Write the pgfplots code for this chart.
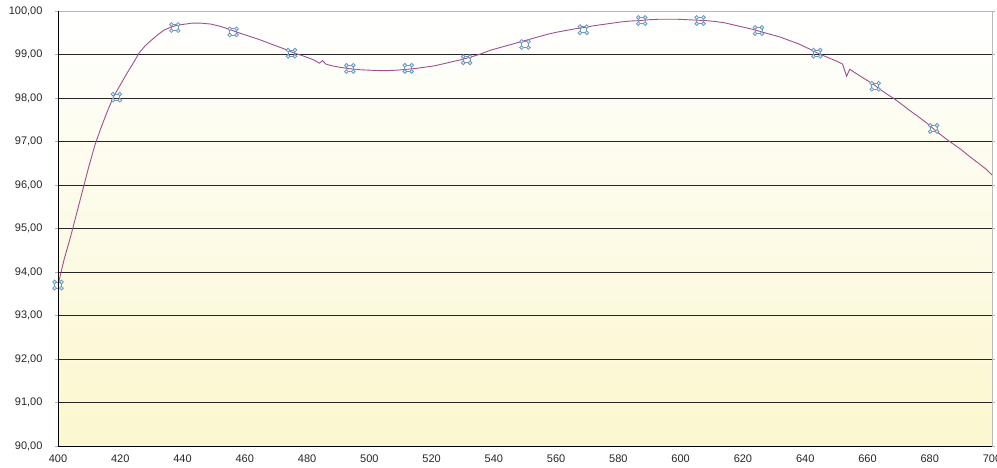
\documentclass[border=0pt]{standalone}
\usepackage{fontspec}
\setmainfont{Liberation Sans}
\usepackage{pgfplots}
\pgfplotsset{compat=1.18}
\definecolor{curve}{HTML}{A0508E}
\definecolor{mkblue}{HTML}{6A98C0}
\definecolor{mkfill}{HTML}{E4EEF6}
\definecolor{bgyellow}{HTML}{FBF7CE}

\pgfdeclareplotmark{cmdmark}{%
  \pgfpathrectanglecorners{\pgfpoint{-3.4pt}{-3.1pt}}{\pgfpoint{3.4pt}{3.1pt}}%
  \pgfusepathqstroke
  \pgfpathcircle{\pgfpoint{-3.4pt}{3.1pt}}{1.9pt}%
  \pgfpathcircle{\pgfpoint{3.4pt}{3.1pt}}{1.9pt}%
  \pgfpathcircle{\pgfpoint{-3.4pt}{-3.1pt}}{1.9pt}%
  \pgfpathcircle{\pgfpoint{3.4pt}{-3.1pt}}{1.9pt}%
  \pgfusepathqfillstroke
}

\begin{document}
\begin{tikzpicture}
\begin{axis}[
    scale only axis,
    width=934pt, height=435pt,
    xmin=400, xmax=700, ymin=90, ymax=100,
    xtick={400,420,...,700},
    ytick={90,91,...,100},
    axis line style={draw=gray!55, line width=0.8pt},
    ymajorgrids,
    major grid style={black!85, line width=0.9pt},
    x tick style={draw=none},
    y tick style={draw=gray!60},
    tick align=outside,
    major tick length=3pt,
    tick label style={font=\fontsize{11}{13}\selectfont, text=black!85},
    yticklabel style={xshift=-9pt},
    xticklabel style={yshift=-2pt},
    /pgf/number format/.cd, fixed, fixed zerofill, precision=2, use comma, 1000 sep={},
    assume math mode=true,
    /pgfplots/.cd,
    xticklabel={\pgfmathprintnumber[fixed,precision=0,1000 sep={}]{\tick}},
    axis background/.style={top color=white, bottom color=bgyellow, middle color=white!50!bgyellow},
    after end axis/.code={
      \draw[black, line width=0.9pt] (rel axis cs:0,1) -- (rel axis cs:0,0) -- (rel axis cs:1,0);
    },
]
\addplot[curve, line width=0.9pt, mark=none] coordinates {
(400,93.70) (402,94.30) (404,94.80) (406,95.35) (408,95.90) (410,96.45)
(412,96.95) (414,97.35) (416,97.72) (418,98.05) (420,98.30) (422,98.55)
(424,98.78) (426,99.03) (428,99.20) (430,99.33) (432,99.45) (434,99.56)
(436,99.62) (438,99.67) (440,99.69) (443,99.72) (446,99.72) (449,99.70)
(452,99.65) (455,99.58) (458,99.50) (461,99.43) (464,99.36) (467,99.28)
(470,99.20) (473,99.12) (476,99.03) (479,98.96) (482,98.88) (484,98.80)
(485,98.86) (486,98.78) (488,98.74) (491,98.70) (494,98.67) (497,98.65)
(500,98.64) (503,98.63) (506,98.63) (509,98.64) (512,98.66) (515,98.68)
(518,98.71) (521,98.74) (524,98.79) (527,98.84) (530,98.89) (533,98.95)
(536,99.02) (539,99.10) (542,99.16) (545,99.22) (548,99.28) (551,99.34)
(554,99.40) (557,99.46) (560,99.51) (563,99.55) (566,99.59) (569,99.62)
(572,99.66) (575,99.69) (578,99.72) (581,99.75) (584,99.77) (587,99.78)
(590,99.80) (593,99.81) (596,99.81) (599,99.81) (602,99.80) (605,99.79)
(608,99.78) (611,99.76) (614,99.73) (617,99.68) (620,99.63) (623,99.58)
(626,99.52) (629,99.46) (632,99.40) (635,99.32) (638,99.24) (641,99.14)
(644,99.03) (647,98.94) (650,98.85) (652,98.78) (653.3,98.50) (654.3,98.66)
(656,98.58) (658,98.49) (660,98.40) (662,98.31) (664,98.20) (666,98.10)
(668,98.01) (670,97.91) (672,97.80) (674,97.69) (676,97.59) (678,97.48)
(680,97.37) (682,97.24) (684,97.13) (686,97.02) (688,96.92) (690,96.82)
(692,96.70) (694,96.59) (696,96.48) (698,96.37) (700,96.23)
};
\addplot[only marks, mark=cmdmark, mark options={draw=mkblue, fill=mkfill, line width=0.8pt}] coordinates {
(400,93.70) (418.75,98.02) (437.5,99.62) (456.25,99.52) (475,99.03)
(493.75,98.68) (512.5,98.68) (531.25,98.88) (550,99.23) (568.75,99.57)
(587.5,99.78) (606.25,99.78) (625,99.55) (643.75,99.03) (662.5,98.27)
(681.25,97.30)
};
\end{axis}
\pgfresetboundingbox
\path[use as bounding box] (-58pt,-22pt) rectangle (939pt,446pt);
\end{tikzpicture}
\end{document}
